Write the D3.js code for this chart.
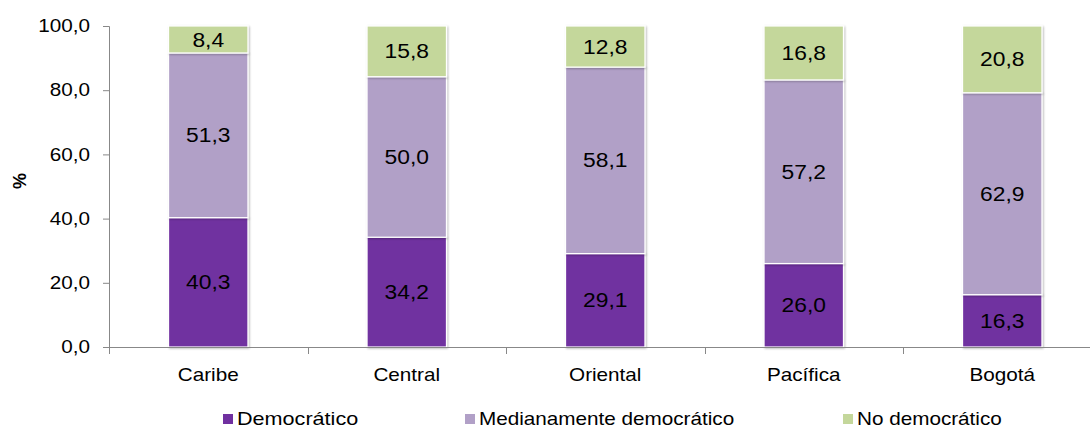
<!DOCTYPE html>
<html><head><meta charset="utf-8">
<script src="https://cdn.jsdelivr.net/npm/d3@7"></script>
<style>body{margin:0;background:#fff}svg{display:block;font-family:"Liberation Sans",Arial,sans-serif}</style>
</head><body><svg id="c" width="1090" height="430"></svg>
<script>
const categories = ["Caribe","Central","Oriental","Pacífica","Bogotá"];
const democratico = [40.3,34.2,29.1,26.0,16.3];
const medianamente = [51.3,50.0,58.1,57.2,62.9];
const noDemocratico = [8.4,15.8,12.8,16.8,20.8];
const seriesNames = ["Democrático","Medianamente democrático","No democrático"];
const yTicks = [0,20,40,60,80,100];
const colors = ["#7030A0","#B1A0C7","#C4D79B"];

const SX = 1.15;
const svg = d3.select("#c");
const x = d3.scaleBand().domain(categories).range([109,1101.5]).paddingInner(0.6).paddingOuter(0.3);
const y = d3.scaleLinear().domain([0,100]).range([347,26]);
const fmt = v => v.toFixed(1).replace(".",",");

const rows = categories.map((c,i)=>({cat:c, "Democrático":democratico[i], "Medianamente democrático":medianamente[i], "No democrático":noDemocratico[i]}));
const stack = d3.stack().keys(seriesNames)(rows);

const defs = svg.append("defs");
const f = defs.append("filter").attr("id","sh").attr("x","-10%").attr("y","-10%").attr("width","130%").attr("height","130%");
f.append("feGaussianBlur").attr("in","SourceAlpha").attr("stdDeviation",1.2);
f.append("feOffset").attr("dx",1).attr("dy",1).attr("result","b");
f.append("feComponentTransfer").append("feFuncA").attr("type","linear").attr("slope",0.3);
const m = f.append("feMerge"); m.append("feMergeNode"); m.append("feMergeNode").attr("in","SourceGraphic");

// bars
stack.forEach((s,si)=>{
  const g = svg.append("g").attr("filter","url(#sh)");
  g.selectAll("rect").data(s).join("rect")
    .attr("x",d=>x(d.data.cat)).attr("width",x.bandwidth())
    .attr("y",d=>y(d[1])).attr("height",d=>y(d[0])-y(d[1]))
    .attr("fill",colors[si]).attr("stroke","#fff").attr("stroke-width",1.2);
});
stack.forEach((s,si)=>{
  svg.append("g").selectAll("text").data(s).join("text")
    .attr("transform",d=>`translate(${x(d.data.cat)+x.bandwidth()/2},${(y(d[0])+y(d[1]))/2}) scale(1.17,1)`)
    .attr("dy","0.36em")
    .attr("text-anchor","middle").attr("font-size",19.5).attr("fill","#000")
    .text(d=>fmt(d[1]-d[0]));
});

// y axis
const ya = svg.append("g").attr("transform","translate(109,0)")
  .call(d3.axisLeft(y).tickValues(yTicks).tickFormat(fmt).tickSize(6).tickPadding(12));
ya.select(".domain").attr("stroke","#888").attr("d","M-6,347.5H0.5V26.5H-6");
ya.selectAll(".tick line").attr("stroke","#888");
ya.selectAll(".tick text").attr("font-size",18).attr("fill","#000")
  .attr("font-family","Liberation Sans, Arial, sans-serif")
  .attr("transform",`translate(-19,0) scale(${SX},1)`).attr("x",0);

// x axis
const xa = svg.append("g").attr("transform","translate(0,347)");
xa.append("line").attr("x1",109).attr("x2",1101.5).attr("y1",0.5).attr("y2",0.5).attr("stroke","#888");
const step = x.step();
const bounds = d3.range(categories.length+1).map(i=>109+i*step);
xa.selectAll("line.t").data(bounds).join("line").attr("class","t")
  .attr("x1",d=>Math.round(d)+0.5).attr("x2",d=>Math.round(d)+0.5).attr("y1",0).attr("y2",7).attr("stroke","#888");
xa.selectAll("text").data(categories).join("text")
  .attr("transform",d=>`translate(${x(d)+x.bandwidth()/2},34) scale(${SX},1)`)
  .attr("text-anchor","middle")
  .attr("font-size",18).attr("fill","#000").text(d=>d);

// y title
svg.append("text").attr("transform","translate(26,181) rotate(-90)").attr("text-anchor","middle")
  .attr("font-size",18).attr("font-weight","bold").text("%");

// legend
const legX = [223,465,843];
const lg = svg.append("g");
seriesNames.forEach((n,i)=>{
  lg.append("rect").attr("x",legX[i]).attr("y",414).attr("width",10).attr("height",10).attr("fill",colors[i]);
  lg.append("text").attr("transform",`translate(${legX[i]+14},419) scale(${i===0?1.2:SX},1)`).attr("dy","0.36em")
    .attr("font-size",18).attr("fill","#000").text(n);
});
</script></body></html>
